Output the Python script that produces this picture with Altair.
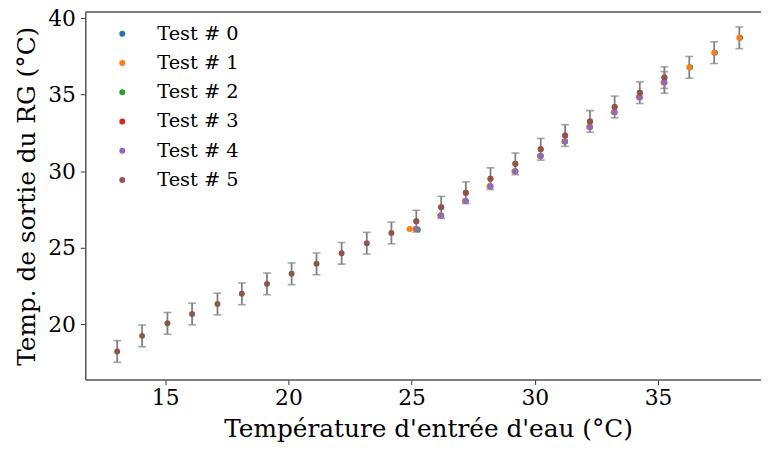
import altair as alt
import pandas as pd

tests = ["Test # 0", "Test # 1", "Test # 2", "Test # 3", "Test # 4", "Test # 5"]
colors = ["#1f77b4", "#ff7f0e", "#2ca02c", "#d62728", "#9467bd", "#8c564b"]

# Test 0 (mostly hidden under Test 1)
t0_x = [36.30, 37.31, 38.33]
t0_y = [36.79, 37.75, 38.72]
# Test 1
t1_x = [24.92, 25.15, 26.16, 27.16, 28.16, 29.17, 30.20, 31.19, 32.20, 33.20, 34.22, 35.22, 36.27, 37.28, 38.30]
t1_y = [26.22, 26.22, 27.10, 28.05, 29.02, 29.99, 30.99, 31.94, 32.89, 33.86, 34.83, 35.80, 36.79, 37.75, 38.72]
# Test 2
t2_x = [25.25, 26.20, 27.20, 28.20, 29.21, 30.24, 31.23, 32.24, 33.24, 34.26, 35.26]
t2_y = [26.19, 27.10, 28.05, 29.02, 29.99, 30.99, 31.94, 32.89, 33.86, 34.83, 35.80]
# Test 3 (hidden under Test 5)
t3_x = [25.19, 26.20, 27.20, 28.20, 29.21, 30.24, 31.23, 32.24, 33.24, 34.26, 35.26]
t3_y = [26.73, 27.64, 28.59, 29.51, 30.48, 31.43, 32.33, 33.25, 34.20, 35.13, 36.12]
# Test 4
t4_x = [25.19, 26.20, 27.20, 28.20, 29.21, 30.24, 31.23, 32.24, 33.24, 34.26, 35.26]
t4_y = [26.22, 27.10, 28.05, 29.02, 29.99, 30.99, 31.94, 32.89, 33.86, 34.83, 35.80]
# Test 5
t5_x = [13.05, 14.06, 15.09, 16.09, 17.12, 18.11, 19.13, 20.13, 21.14, 22.16, 23.18, 24.18,
        25.19, 26.20, 27.20, 28.20, 29.21, 30.24, 31.23, 32.24, 33.24, 34.26, 35.26]
t5_y = [18.21, 19.23, 20.05, 20.66, 21.31, 21.98, 22.63, 23.29, 23.94, 24.63, 25.29, 25.96,
        26.73, 27.64, 28.59, 29.51, 30.48, 31.43, 32.33, 33.25, 34.20, 35.13, 36.12]

# Error bars (centre and half-width)
err_x = t5_x + [35.26, 36.27, 37.28, 38.30]
err_y = t5_y + [35.80, 36.79, 37.75, 38.72]
err_half = [0.71] * len(err_x)

series = [(t0_x, t0_y), (t1_x, t1_y), (t2_x, t2_y), (t3_x, t3_y), (t4_x, t4_y), (t5_x, t5_y)]
rows = []
for name, (xs, ys) in zip(tests, series):
    for xv, yv in zip(xs, ys):
        rows.append({"test": name, "x": xv, "y": yv})
pts = pd.DataFrame(rows)

err = pd.DataFrame({
    "x": err_x,
    "lo": [c - h for c, h in zip(err_y, err_half)],
    "hi": [c + h for c, h in zip(err_y, err_half)],
})

FONT = "DejaVu Serif"
xscale = alt.Scale(domain=[11.755, 39.18], nice=False, zero=False)
yscale = alt.Scale(domain=[16.372, 40.408], nice=False, zero=False)

xaxis = alt.Axis(values=[15, 20, 25, 30, 35], title="Température d'entrée d'eau (°C)",
                 grid=False, domainColor="#555", domainWidth=1.5, tickSize=5, tickColor="#333",
                 labelFont=FONT, labelFontSize=22, labelColor="black", labelPadding=3,
                 titleFont=FONT, titleFontSize=25, titleFontWeight="normal", titleColor="black",
                 titleX=346, titlePadding=8)
yaxis = alt.Axis(values=[20, 25, 30, 35, 40], title="Temp. de sortie du RG (°C)",
                 grid=False, domainColor="#555", domainWidth=1.5, tickSize=5, tickColor="#333",
                 labelFont=FONT, labelFontSize=22, labelColor="black", labelPadding=5,
                 titleFont=FONT, titleFontSize=25, titleFontWeight="normal", titleColor="black",
                 titlePadding=8)

X = alt.X("x:Q", scale=xscale, axis=xaxis)

rules = alt.Chart(err).mark_rule(color="#808080", strokeWidth=1.8).encode(
    x=X, y=alt.Y("lo:Q", scale=yscale, axis=yaxis), y2="hi:Q")
cap_lo = alt.Chart(err).mark_tick(color="#808080", orient="horizontal", size=8, thickness=1.6).encode(
    x=X, y=alt.Y("lo:Q", scale=yscale, axis=yaxis))
cap_hi = alt.Chart(err).mark_tick(color="#808080", orient="horizontal", size=8, thickness=1.6).encode(
    x=X, y=alt.Y("hi:Q", scale=yscale, axis=yaxis))

points = alt.Chart(pts).mark_circle(size=36, opacity=1).encode(
    x=X,
    y=alt.Y("y:Q", scale=yscale, axis=yaxis),
    color=alt.Color("test:N", scale=alt.Scale(domain=tests, range=colors),
                    legend=alt.Legend(title=None, orient="none", legendX=27.6, legendY=12.3,
                                      direction="vertical", symbolType="circle", symbolSize=36,
                                      symbolStrokeWidth=0, labelFont=FONT, labelFontSize=19.5,
                                      labelColor="black", labelOffset=25.6, rowPadding=8.5,
                                      padding=0)),
)

top_spine = alt.Chart(pd.DataFrame({"a": [0]})).mark_rule(color="#555", strokeWidth=1.5).encode(
    x=alt.value(0), x2=alt.value(682), y=alt.value(0))

chart = alt.layer(rules, cap_lo, cap_hi, points, top_spine).properties(
    width=682, height=371,
    autosize=alt.AutoSizeParams(type="none"),
    padding={"left": 78, "top": 2, "right": 0, "bottom": 63},
).configure_view(stroke=None)

chart.save("out.html", embed_options={"renderer": "svg", "actions": False})
